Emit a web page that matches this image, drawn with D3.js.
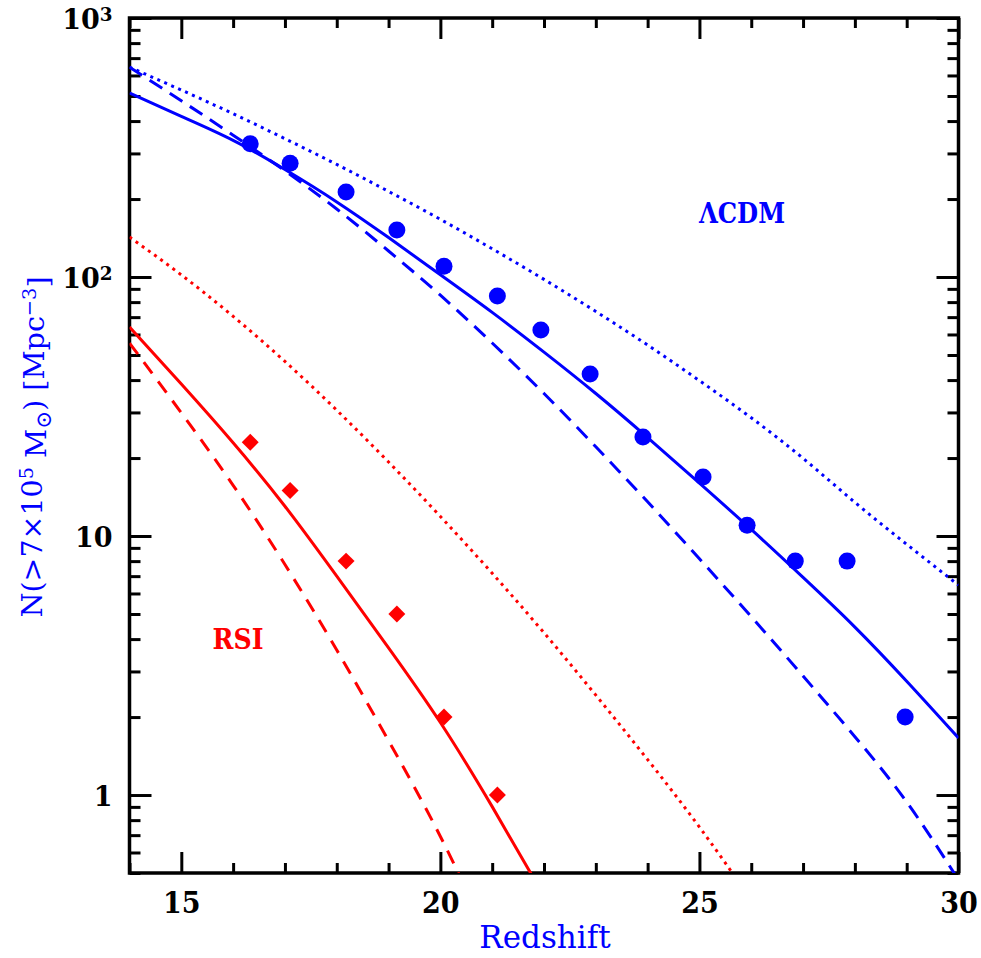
<!DOCTYPE html>
<html>
<head>
<meta charset="utf-8">
<script src="https://cdn.jsdelivr.net/npm/d3@7/dist/d3.min.js"></script>
<style>
  html, body { margin: 0; padding: 0; background: #fff; }
  svg { display: block; }
  .tick text { font-family: "DejaVu Serif", serif; fill: #000; }
</style>
</head>
<body>
<svg id="chart" width="981" height="958"></svg>
<script>
// Simulated halo counts: ΛCDM (blue) and RSI (red)
const modelZ = [14, 15, 16, 17, 18, 19, 20, 21, 22, 23, 24, 25, 26, 27, 28, 29, 30];
const lcdmSolid  = [513, 417, 337, 260, 195, 142, 102, 73, 51.3, 35.5, 24.0, 16.0, 10.6, 6.92, 4.45, 2.75, 1.66];
const lcdmDashed = [646, 479, 353, 257, 183, 126, 85.1, 55.6, 35.5, 22.1, 13.55, 8.17, 4.88, 2.88, 1.68, 0.94, 0.47];
const lcdmDotted = [646, 527, 427, 342, 272, 214, 167, 128.5, 97.9, 73.6, 54.6, 39.8, 28.6, 19.95, 13.49, 9.29, 6.46];

const rsiSolidZ  = [14, 15, 16, 17, 18, 19, 20, 21, 22];
const rsiSolid   = [64.1, 38.6, 22.9, 13.03, 7.0, 3.70, 1.905, 0.902, 0.407];
const rsiDashedZ = [14, 15, 16, 17, 18, 19, 20, 21];
const rsiDashed  = [55.6, 29.9, 15.7, 7.76, 3.63, 1.62, 0.692, 0.263];
const rsiDottedZ = [14, 15, 16, 17, 18, 19, 20, 21, 22, 23, 24, 25, 26];
const rsiDotted  = [142.6, 101.9, 70.5, 47.2, 30.6, 19.3, 11.9, 7.18, 4.23, 2.43, 1.37, 0.752, 0.394];

// Measured counts from the simulation snapshots
const lcdmPtsZ = [16.33, 17.1, 18.18, 19.16, 20.07, 21.1, 21.94, 22.89, 23.91, 25.07, 25.92, 26.85, 27.85, 28.97];
const lcdmPtsN = [327, 275, 213, 152, 110, 84.5, 62.4, 42.2, 24.1, 16.9, 11.0, 8.0, 8.0, 2.0];
const rsiPtsZ  = [16.33, 17.1, 18.18, 19.16, 20.07, 21.1];
const rsiPtsN  = [23, 15, 8, 5, 2, 1];

// Axis ticks
const xMajor = [15, 20, 25, 30];
const xMinor = [14, 16, 17, 18, 19, 21, 22, 23, 24, 26, 27, 28, 29];
const yMajor = [1, 10, 100, 1000];
const yMajorExp = ["0", "1", "2", "3"];
const yMinor = [0.5, 0.6, 0.7, 0.8, 0.9, 2, 3, 4, 5, 6, 7, 8, 9, 20, 30, 40, 50, 60, 70, 80, 90, 200, 300, 400, 500, 600, 700, 800, 900];

const BLUE = "#0000ff", RED = "#ff0000";
const L = 129.5, R = 958.5, T = 18, B = 873;

const svg = d3.select("#chart");
const x = d3.scaleLinear().domain([14, 30]).range([L, R]);
const y = d3.scaleLog().domain([0.5, 1000]).range([B, T]);

svg.append("defs").append("clipPath").attr("id", "plotclip")
  .append("rect").attr("x", L).attr("y", T).attr("width", R - L).attr("height", B - T);

// ----- ticks on all four sides, pointing inward
function tickAxis(axisFn, scale, values, size, transform) {
  const g = svg.append("g").attr("transform", transform)
    .call(axisFn(scale).tickValues(values).tickSize(size).tickFormat(""));
  g.select(".domain").remove();
  g.selectAll(".tick line").attr("stroke", "#000").attr("stroke-width", 3);
  return g;
}
tickAxis(d3.axisBottom, x, xMajor, -21, `translate(0,${B})`);
tickAxis(d3.axisBottom, x, xMinor, -10, `translate(0,${B})`);
tickAxis(d3.axisTop, x, xMajor, -21, `translate(0,${T})`);
tickAxis(d3.axisTop, x, xMinor, -10, `translate(0,${T})`);
tickAxis(d3.axisLeft, y, yMajor, -22, `translate(${L},0)`);
tickAxis(d3.axisLeft, y, yMinor, -11, `translate(${L},0)`);
tickAxis(d3.axisRight, y, yMajor, -22, `translate(${R},0)`);
tickAxis(d3.axisRight, y, yMinor, -11, `translate(${R},0)`);

// x tick labels
const xl = svg.append("g").attr("transform", `translate(0,${B})`)
  .call(d3.axisBottom(x).tickValues(xMajor).tickSize(0).tickPadding(0).tickFormat(d3.format("d")));
xl.select(".domain").remove();
xl.selectAll(".tick text")
  .attr("y", 40).attr("dy", 0)
  .attr("font-size", 30).attr("font-weight", "bold").attr("font-stretch", "condensed");

// y tick labels: 1, 10, 10², 10³
const yl = svg.append("g").attr("transform", `translate(${L},0)`)
  .call(d3.axisLeft(y).tickValues(yMajor).tickSize(0).tickFormat(""));
yl.select(".domain").remove();
yl.selectAll(".tick").each(function(d, i) {
  const t = d3.select(this).append("text")
    .attr("x", -17).attr("y", 0).attr("dy", "0.37em")
    .attr("text-anchor", "end")
    .attr("font-size", 27).attr("font-weight", "bold").attr("fill", "#000");
  if (d === 1) t.text("1");
  else if (d === 10) t.text("10");
  else {
    t.append("tspan").text("10");
    t.append("tspan").attr("dy", "-0.42em").attr("font-size", "0.68em").text(yMajorExp[i]);
  }
});

// frame
svg.append("rect").attr("x", L).attr("y", T).attr("width", R - L).attr("height", B - T)
  .attr("fill", "none").attr("stroke", "#000").attr("stroke-width", 3.5);

// ----- model curves
const plot = svg.append("g").attr("clip-path", "url(#plotclip)");
const line = d3.line().x(d => x(d[0])).y(d => y(d[1])).curve(d3.curveNatural);
function curve(zs, ns, color, dash) {
  plot.append("path")
    .datum(zs.map((z, i) => [z, ns[i]]))
    .attr("d", line)
    .attr("fill", "none")
    .attr("stroke", color)
    .attr("stroke-width", 3)
    .attr("stroke-dasharray", dash);
}
curve(modelZ, lcdmDotted, BLUE, "3,4.6");
curve(modelZ, lcdmDashed, BLUE, "15,9");
curve(modelZ, lcdmSolid, BLUE, null);
curve(rsiDottedZ, rsiDotted, RED, "3,4.6");
curve(rsiDashedZ, rsiDashed, RED, "14,10");
curve(rsiSolidZ, rsiSolid, RED, null);

// ----- simulation points
plot.selectAll("circle.lcdm")
  .data(lcdmPtsZ.map((z, i) => [z, lcdmPtsN[i]]))
  .join("circle").attr("class", "lcdm")
  .attr("cx", d => x(d[0])).attr("cy", d => y(d[1])).attr("r", 8.5)
  .attr("fill", BLUE);

const diamond = d3.symbol().type(d3.symbolSquare).size(144);
plot.selectAll("path.rsi")
  .data(rsiPtsZ.map((z, i) => [z, rsiPtsN[i]]))
  .join("path").attr("class", "rsi")
  .attr("d", diamond)
  .attr("transform", d => `translate(${x(d[0])},${y(d[1])}) rotate(45)`)
  .attr("fill", RED);

// ----- labels
const labelFont = "DejaVu Serif, serif";
svg.append("text").attr("x", 742).attr("y", 223).attr("text-anchor", "middle")
  .attr("font-family", labelFont).attr("font-size", 27).attr("font-weight", "bold")
  .attr("font-stretch", "condensed").attr("fill", BLUE).text("ΛCDM");
svg.append("text").attr("x", 238).attr("y", 649).attr("text-anchor", "middle")
  .attr("font-family", labelFont).attr("font-size", 28).attr("font-weight", "bold")
  .attr("font-stretch", "condensed").attr("fill", RED).text("RSI");

svg.append("text").attr("x", 545).attr("y", 948).attr("text-anchor", "middle")
  .attr("font-family", labelFont).attr("font-size", 31)
  .attr("fill", BLUE).text("Redshift");

const yt = svg.append("text")
  .attr("transform", "translate(42,447) rotate(-90)")
  .attr("text-anchor", "middle")
  .attr("font-family", labelFont).attr("font-size", 28.5)
  .attr("fill", BLUE);
yt.append("tspan").text("N(>7×10");
yt.append("tspan").attr("dy", "-0.45em").attr("font-size", "0.68em").text("5");
yt.append("tspan").attr("dy", "0.45em").text(" M");
yt.append("tspan").attr("dy", "0.25em").attr("font-size", "0.75em").text("⊙");
yt.append("tspan").attr("dy", "-0.25em").text(") [Mpc");
yt.append("tspan").attr("dy", "-0.45em").attr("font-size", "0.68em").text("−3");
yt.append("tspan").attr("dy", "0.45em").text("]");
</script>
</body>
</html>
